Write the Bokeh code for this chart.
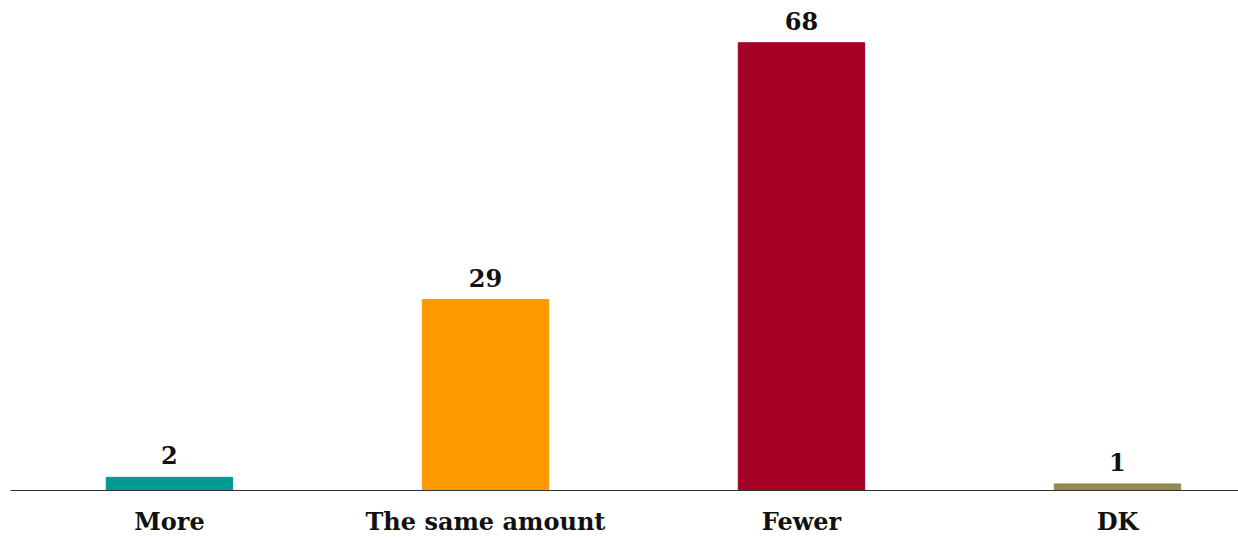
from bokeh.plotting import figure
from bokeh.models import ColumnDataSource, Range1d, FixedTicker
from bokeh.core.properties import value
from bokeh.embed import file_html
from bokeh.resources import INLINE

categories = ["More", "The same amount", "Fewer", "DK"]
values = [2, 29, 68, 1]
colors = ["#009A94", "#FF9900", "#A50026", "#948A54"]

xs = list(range(len(categories)))
src = ColumnDataSource(dict(x=xs, top=values, color=colors,
                            label=[str(v) for v in values]))

p = figure(width=1238, height=538, output_backend="svg", toolbar_location=None,
           x_range=Range1d(-0.503, 3.383), y_range=Range1d(0, 73.2),
           min_border_left=10, min_border_right=0, min_border_top=8, min_border_bottom=0)

p.vbar(x="x", top="top", width=0.4, color="color", source=src)
p.text(x="x", y="top", text="label", source=src, text_align="center",
       text_baseline="bottom", y_offset=-13, text_font=value("DejaVu Serif"),
       text_font_style="bold", text_font_size="24px", text_color="#111111")

p.xaxis.ticker = FixedTicker(ticks=xs)
p.xaxis.major_label_overrides = {i: c for i, c in enumerate(categories)}
p.xaxis.major_tick_line_color = None
p.xaxis.minor_tick_line_color = None
p.xaxis.axis_line_color = "#333333"
p.xaxis.axis_line_width = 1
p.xaxis.major_label_text_font = "DejaVu Serif"
p.xaxis.major_label_text_font_style = "bold"
p.xaxis.major_label_text_font_size = "24px"
p.xaxis.major_label_text_color = "#111111"
p.xaxis.major_label_standoff = 10
p.yaxis.visible = False
p.grid.visible = False
p.outline_line_color = None

open("out.html", "w").write(file_html(p, INLINE))
